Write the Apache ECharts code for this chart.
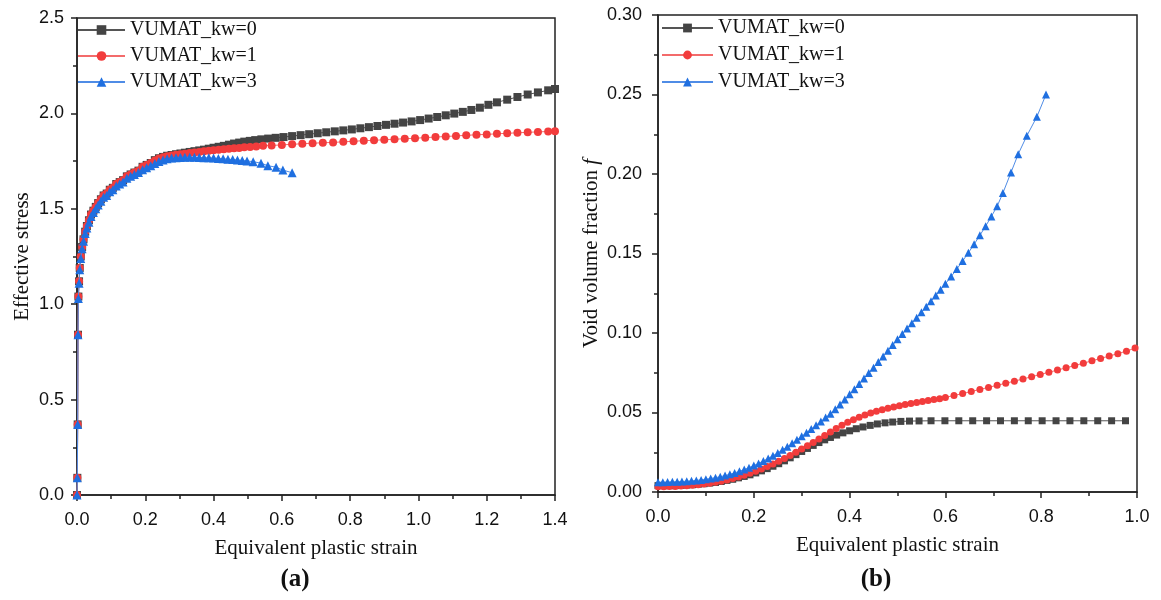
<!DOCTYPE html>
<html><head><meta charset="utf-8">
<script src="https://cdn.jsdelivr.net/npm/echarts@6/dist/echarts.min.js"></script>
<style>html,body{margin:0;padding:0;background:#fff}#c{width:1161px;height:600px}</style>
</head><body><div id="c"></div>
<script>
const seriesNames = ['VUMAT_kw=0', 'VUMAT_kw=1', 'VUMAT_kw=3'];
const panelLabels = ['(a)', '(b)'];
const xAxisName = 'Equivalent plastic strain';
const yAxisNameA = 'Effective stress';
const yAxisNameB = 'Void volume fraction ';

// Panel (a): effective stress vs equivalent plastic strain
const stressKw0 = [[0,0],[0.001,0.09],[0.002,0.37],[0.003,0.84],[0.004,1.04],[0.006,1.12],[0.008,1.19],[0.011,1.25],[0.015,1.30],[0.019,1.34],[0.024,1.38],[0.029,1.41],[0.035,1.44],[0.041,1.47],[0.048,1.49],[0.055,1.51],[0.062,1.53],[0.070,1.55],[0.078,1.57],[0.087,1.58],[0.096,1.60],[0.105,1.61],[0.115,1.63],[0.125,1.64],[0.135,1.65],[0.146,1.67],[0.157,1.68],[0.168,1.69],[0.180,1.70],[0.192,1.72],[0.204,1.73],[0.216,1.74],[0.228,1.755],[0.240,1.765],[0.252,1.772],[0.264,1.778],[0.277,1.782],[0.290,1.786],[0.303,1.790],[0.316,1.794],[0.330,1.798],[0.344,1.802],[0.358,1.806],[0.372,1.810],[0.386,1.815],[0.400,1.820],[0.415,1.825],[0.430,1.830],[0.445,1.836],[0.460,1.842],[0.475,1.847],[0.490,1.852],[0.506,1.856],[0.522,1.860],[0.540,1.864],[0.560,1.868],[0.582,1.872],[0.605,1.876],[0.630,1.881],[0.655,1.886],[0.680,1.891],[0.705,1.896],[0.730,1.901],[0.755,1.906],[0.780,1.911],[0.805,1.916],[0.830,1.922],[0.855,1.928],[0.880,1.934],[0.905,1.940],[0.930,1.946],[0.955,1.952],[0.980,1.958],[1.005,1.965],[1.030,1.973],[1.055,1.981],[1.080,1.990],[1.105,1.999],[1.130,2.008],[1.155,2.018],[1.180,2.030],[1.205,2.045],[1.230,2.058],[1.260,2.072],[1.290,2.086],[1.320,2.099],[1.350,2.110],[1.380,2.121],[1.400,2.128]];
const stressKw1 = [[0,0],[0.001,0.09],[0.002,0.37],[0.003,0.84],[0.004,1.04],[0.006,1.12],[0.008,1.19],[0.011,1.25],[0.015,1.30],[0.019,1.34],[0.024,1.38],[0.029,1.41],[0.035,1.44],[0.041,1.47],[0.048,1.49],[0.055,1.51],[0.062,1.53],[0.070,1.55],[0.078,1.57],[0.087,1.58],[0.096,1.60],[0.105,1.61],[0.115,1.63],[0.125,1.64],[0.135,1.65],[0.146,1.67],[0.157,1.68],[0.168,1.69],[0.180,1.70],[0.192,1.72],[0.204,1.73],[0.216,1.74],[0.228,1.753],[0.240,1.763],[0.252,1.770],[0.264,1.776],[0.277,1.780],[0.290,1.783],[0.303,1.786],[0.316,1.789],[0.330,1.792],[0.344,1.795],[0.358,1.798],[0.372,1.801],[0.386,1.804],[0.400,1.807],[0.415,1.810],[0.430,1.812],[0.445,1.815],[0.460,1.817],[0.475,1.819],[0.490,1.822],[0.507,1.824],[0.525,1.827],[0.545,1.830],[0.570,1.832],[0.600,1.835],[0.630,1.838],[0.660,1.841],[0.690,1.844],[0.720,1.846],[0.750,1.848],[0.780,1.851],[0.810,1.854],[0.840,1.857],[0.870,1.859],[0.900,1.862],[0.930,1.865],[0.960,1.867],[0.990,1.870],[1.020,1.873],[1.050,1.876],[1.080,1.879],[1.110,1.882],[1.140,1.885],[1.170,1.888],[1.200,1.890],[1.230,1.893],[1.260,1.896],[1.290,1.898],[1.320,1.901],[1.350,1.903],[1.380,1.905],[1.400,1.906]];
const stressKw3 = [[0,0],[0.001,0.09],[0.002,0.37],[0.003,0.84],[0.004,1.03],[0.006,1.11],[0.008,1.18],[0.011,1.24],[0.015,1.29],[0.019,1.33],[0.024,1.37],[0.029,1.40],[0.035,1.43],[0.041,1.46],[0.048,1.48],[0.055,1.50],[0.062,1.52],[0.070,1.54],[0.078,1.56],[0.087,1.57],[0.096,1.59],[0.105,1.60],[0.115,1.62],[0.125,1.63],[0.135,1.64],[0.146,1.66],[0.157,1.67],[0.168,1.68],[0.180,1.69],[0.192,1.705],[0.204,1.715],[0.216,1.725],[0.228,1.738],[0.240,1.748],[0.252,1.756],[0.264,1.762],[0.277,1.766],[0.290,1.768],[0.303,1.769],[0.316,1.770],[0.330,1.770],[0.344,1.770],[0.358,1.769],[0.372,1.768],[0.386,1.767],[0.400,1.766],[0.414,1.764],[0.428,1.762],[0.442,1.760],[0.456,1.758],[0.470,1.756],[0.484,1.753],[0.498,1.751],[0.516,1.747],[0.539,1.739],[0.559,1.726],[0.583,1.718],[0.603,1.703],[0.630,1.689]];

// Panel (b): void volume fraction vs equivalent plastic strain
const voidKw0 = [[0,0.004],[0.012,0.004],[0.024,0.004],[0.036,0.004],[0.048,0.0042],[0.060,0.0044],[0.072,0.0046],[0.084,0.0049],[0.096,0.0052],[0.108,0.0056],[0.120,0.006],[0.132,0.0066],[0.144,0.0073],[0.156,0.008],[0.168,0.0089],[0.180,0.0098],[0.192,0.0108],[0.204,0.012],[0.216,0.0133],[0.228,0.0147],[0.240,0.0162],[0.252,0.0178],[0.264,0.0196],[0.276,0.0215],[0.288,0.0235],[0.300,0.0255],[0.312,0.0274],[0.324,0.0293],[0.336,0.0311],[0.348,0.0328],[0.360,0.0343],[0.373,0.0358],[0.386,0.0372],[0.400,0.0385],[0.414,0.0398],[0.428,0.0409],[0.443,0.0419],[0.458,0.0428],[0.474,0.0435],[0.490,0.0440],[0.507,0.0444],[0.525,0.0446],[0.545,0.0447],[0.570,0.0448],[0.599,0.0448],[0.628,0.0448],[0.657,0.0448],[0.686,0.0448],[0.715,0.0448],[0.744,0.0448],[0.773,0.0448],[0.802,0.0448],[0.831,0.0448],[0.860,0.0448],[0.889,0.0448],[0.918,0.0448],[0.947,0.0448],[0.976,0.0448]];
const voidKw1 = [[0,0.0033],[0.012,0.0033],[0.024,0.0034],[0.036,0.0035],[0.048,0.0037],[0.060,0.0039],[0.072,0.0042],[0.084,0.0046],[0.096,0.005],[0.108,0.0055],[0.120,0.0061],[0.132,0.0068],[0.144,0.0076],[0.156,0.0085],[0.168,0.0095],[0.180,0.0106],[0.192,0.0118],[0.204,0.0131],[0.216,0.0145],[0.228,0.016],[0.240,0.0176],[0.252,0.0193],[0.264,0.0211],[0.276,0.023],[0.288,0.025],[0.300,0.027],[0.312,0.0291],[0.324,0.0312],[0.336,0.0333],[0.348,0.0355],[0.360,0.0378],[0.372,0.040],[0.384,0.042],[0.396,0.0438],[0.408,0.0455],[0.420,0.047],[0.432,0.0484],[0.444,0.0497],[0.456,0.0508],[0.468,0.0518],[0.480,0.0527],[0.492,0.0535],[0.504,0.0543],[0.516,0.055],[0.528,0.0557],[0.540,0.0563],[0.552,0.0569],[0.564,0.0575],[0.576,0.0581],[0.588,0.0587],[0.600,0.0595],[0.618,0.0607],[0.636,0.0619],[0.654,0.0632],[0.672,0.0645],[0.690,0.0658],[0.708,0.0671],[0.726,0.0684],[0.744,0.0697],[0.762,0.0711],[0.780,0.0725],[0.798,0.0739],[0.816,0.0753],[0.834,0.0767],[0.852,0.0781],[0.870,0.0795],[0.888,0.0810],[0.906,0.0825],[0.924,0.0840],[0.942,0.0855],[0.960,0.0870],[0.978,0.0886],[0.996,0.0905]];
const voidKw3 = [[0,0.0062],[0.010,0.0062],[0.020,0.0063],[0.030,0.0064],[0.040,0.0065],[0.050,0.0066],[0.060,0.0068],[0.070,0.007],[0.080,0.0073],[0.090,0.0076],[0.100,0.008],[0.110,0.0085],[0.120,0.009],[0.130,0.0096],[0.140,0.0103],[0.150,0.0111],[0.160,0.012],[0.170,0.013],[0.180,0.0141],[0.190,0.0153],[0.200,0.0166],[0.210,0.018],[0.220,0.0195],[0.230,0.0211],[0.240,0.0228],[0.250,0.0246],[0.260,0.0265],[0.270,0.0285],[0.280,0.0306],[0.290,0.0328],[0.300,0.035],[0.310,0.0373],[0.320,0.0396],[0.330,0.042],[0.340,0.0444],[0.350,0.0468],[0.360,0.0492],[0.370,0.0521],[0.380,0.0551],[0.390,0.0582],[0.400,0.0614],[0.410,0.0647],[0.420,0.068],[0.430,0.0714],[0.440,0.0748],[0.450,0.0782],[0.460,0.0817],[0.470,0.0852],[0.480,0.0888],[0.490,0.0924],[0.500,0.096],[0.510,0.0994],[0.520,0.1028],[0.530,0.1062],[0.540,0.1096],[0.550,0.113],[0.560,0.1165],[0.570,0.12],[0.580,0.1236],[0.590,0.1272],[0.600,0.1309],[0.612,0.1355],[0.624,0.1403],[0.636,0.1453],[0.648,0.1505],[0.660,0.1558],[0.672,0.1614],[0.684,0.1672],[0.696,0.1733],[0.708,0.1797],[0.720,0.1880],[0.737,0.2010],[0.752,0.2125],[0.770,0.2240],[0.791,0.2360],[0.810,0.2500]];

const colors = ['#444444', '#f23c3c', '#1f6fe0'];
const lineColors = ['#555555', '#f36b6b', '#4f8ce6'];
const symbols = ['rect', 'circle', 'triangle'];

const tickFont = {fontFamily: 'Liberation Sans, Arial, sans-serif', fontSize: 18, color: '#111'};
const serif = 'Liberation Serif, Times New Roman, serif';

function mkSeries(i, data, gi, sizes) {
  return {
    type: 'line', name: seriesNames[i], xAxisIndex: gi, yAxisIndex: gi,
    data: data, symbol: symbols[i], symbolSize: sizes[i], showAllSymbol: true,
    lineStyle: {width: 1, color: lineColors[i]},
    itemStyle: {color: colors[i]}, animation: false, z: 2 + i
  };
}

function xAx(gi, max) {
  return {
    type: 'value', gridIndex: gi, min: 0, max: max, interval: 0.2,
    name: xAxisName, nameLocation: 'middle', nameGap: 43,
    nameTextStyle: {fontFamily: serif, fontSize: 21, color: '#111'},
    axisLine: {show: true, lineStyle: {color: '#222', width: 1.5}},
    axisTick: {show: true, length: 6, lineStyle: {color: '#222', width: 1.5}},
    minorTick: {show: true, splitNumber: 2, length: 4, lineStyle: {color: '#222', width: 1.5}},
    splitLine: {show: false},
    axisLabel: Object.assign({margin: 16, formatter: v => v.toFixed(1)}, tickFont)
  };
}

function yAx(gi, max, interval, dec, name, gap, margin) {
  return {
    type: 'value', gridIndex: gi, min: 0, max: max, interval: interval,
    name: name, nameLocation: 'middle', nameGap: gap,
    nameTextStyle: {fontFamily: serif, fontSize: 21, color: '#111',
      rich: {it: {fontFamily: serif, fontStyle: 'italic', fontSize: 21, color: '#111'}}},
    axisLine: {show: true, lineStyle: {color: '#222', width: 1.5}},
    axisTick: {show: true, length: 6, lineStyle: {color: '#222', width: 1.5}},
    minorTick: {show: true, splitNumber: 2, length: 4, lineStyle: {color: '#222', width: 1.5}},
    splitLine: {show: false},
    axisLabel: Object.assign({margin: margin, formatter: v => v.toFixed(dec)}, tickFont)
  };
}

const chart = echarts.init(document.getElementById('c'), null, {renderer: 'canvas'});
chart.setOption({
  backgroundColor: '#fff',
  animation: false,
  grid: [
    {left: 77, top: 18, width: 478, height: 477, show: true, borderColor: '#222', borderWidth: 1.5, backgroundColor: 'transparent'},
    {left: 658, top: 15, width: 479, height: 477, show: true, borderColor: '#222', borderWidth: 1.5, backgroundColor: 'transparent'}
  ],
  title: [
    {text: panelLabels[0], left: 290, top: 562, textAlign: 'center', textStyle: {fontFamily: serif, fontWeight: 'bold', fontSize: 25, color: '#111'}},
    {text: panelLabels[1], left: 871, top: 562, textAlign: 'center', textStyle: {fontFamily: serif, fontWeight: 'bold', fontSize: 25, color: '#111'}}
  ],
  legend: [
    {left: 77, top: 20, padding: 0, orient: 'vertical', itemWidth: 47, itemHeight: 12, itemGap: 6,
     data: seriesNames, selectedMode: false,
     textStyle: {fontFamily: serif, fontSize: 20, color: '#111', lineHeight: 20}},
    {left: 661, top: 18, padding: 0, orient: 'vertical', itemWidth: 51, itemHeight: 11, itemGap: 7,
     data: seriesNames, selectedMode: false,
     textStyle: {fontFamily: serif, fontSize: 20, color: '#111', lineHeight: 20}}
  ],
  xAxis: [xAx(0, 1.4), xAx(1, 1.0)],
  yAxis: [
    yAx(0, 2.5, 0.5, 1, yAxisNameA, 44, 13),
    yAx(1, 0.30, 0.05, 2, '{n|' + yAxisNameB + '}{it|f}', 56, 16)
  ],
  series: [
    mkSeries(0, stressKw0, 0, [8, 8, 9]),
    mkSeries(1, stressKw1, 0, [8, 8, 9]),
    mkSeries(2, stressKw3, 0, [8, 8, 9]),
    mkSeries(0, voidKw0, 1, [7, 7, 8]),
    mkSeries(1, voidKw1, 1, [7, 7, 8]),
    mkSeries(2, voidKw3, 1, [7, 7, 8])
  ]
});
</script></body></html>
